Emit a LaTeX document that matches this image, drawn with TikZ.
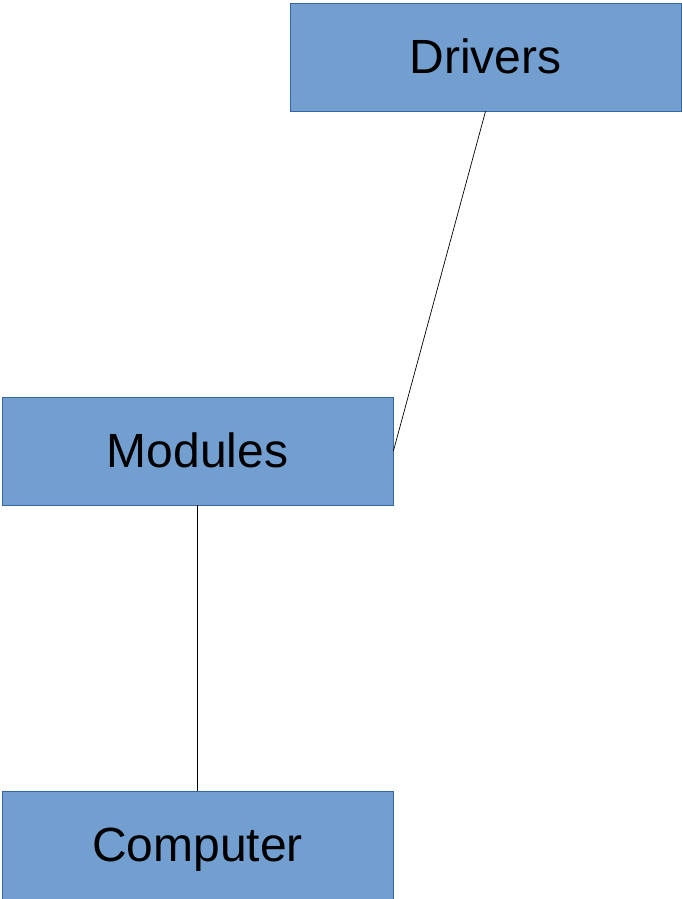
\documentclass[tikz,border=0pt]{standalone}
\usepackage{fontspec}
\setmainfont{Liberation Sans}
\definecolor{boxfill}{HTML}{729FCF}
\definecolor{boxline}{HTML}{3465A4}
\begin{document}
\begin{tikzpicture}[x=1pt,y=1pt,
  box/.style={draw=boxline,fill=boxfill,line width=0.8pt,minimum width=391pt,minimum height=108pt,inner sep=0pt,font=\fontsize{48}{52}\selectfont,text height=43.4pt,text depth=10.2pt},
  link/.style={draw=black,line width=0.7pt}]
\useasboundingbox (0,0) rectangle (682,-899);
\node[box] (drivers) at (485.5,-57) {Drivers};
\node[box] (modules) at (197.5,-451) {Modules};
\node[box] (computer) at (197.5,-845) {Computer};
\draw[link] (drivers.south) -- (modules.east);
\draw[link] (modules.south) -- (computer.north);
\end{tikzpicture}
\end{document}
